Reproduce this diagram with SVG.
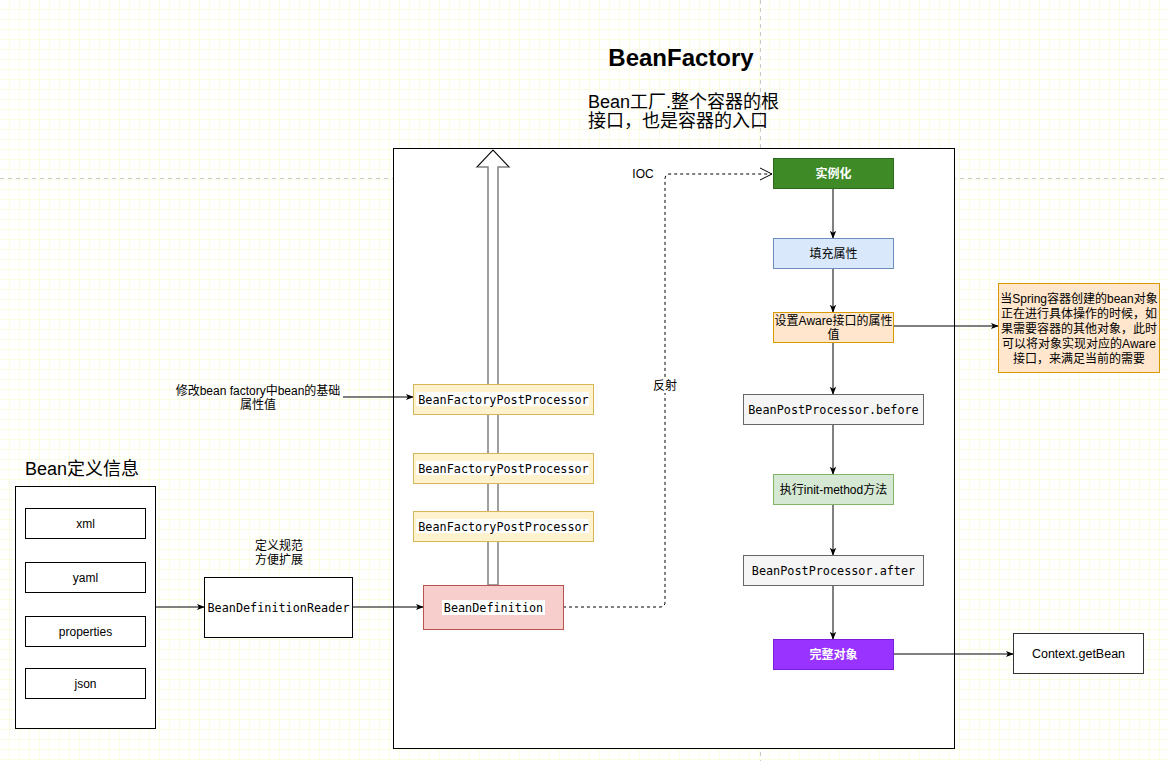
<svg xmlns="http://www.w3.org/2000/svg" width="1168" height="761" viewBox="0 0 1168 761">
<style>
.sans{font-family:"Liberation Sans","Noto Sans CJK SC",sans-serif;}
.mono{font-family:"DejaVu Sans Mono","Liberation Mono",monospace;font-size:11.8px;}
.c{text-anchor:middle;}
.edge{fill:none;stroke:#000;stroke-width:1;}
.guide{stroke:#c8c8c8;stroke-width:1;stroke-dasharray:4 4;fill:none;}
.bfpp{fill:#fff2cc;stroke:#d6b656;}
</style>
<defs>
<pattern id="grid" width="10" height="10" patternUnits="userSpaceOnUse">
<path d="M10 0V10H0" fill="none" stroke="#f8f8c8" stroke-width="1"/>
</pattern>
<marker id="arr" viewBox="0 0 10 10" refX="9" refY="5" markerWidth="8" markerHeight="8" orient="auto" markerUnits="userSpaceOnUse">
<path d="M0 1L10 5L0 9L2.5 5Z" fill="#000"/>
</marker>
<marker id="open" viewBox="0 0 14 14" refX="13" refY="7" markerWidth="14" markerHeight="14" orient="auto" markerUnits="userSpaceOnUse">
<path d="M1 1L13 7L1 13" fill="none" stroke="#000" stroke-width="1"/>
</marker>
</defs>
<rect width="1168" height="761" fill="#fff"/>
<rect width="1168" height="761" fill="url(#grid)"/>
<line class="guide" x1="760.5" y1="0" x2="760.5" y2="761"/>
<line class="guide" x1="0" y1="178.5" x2="1168" y2="178.5"/>

<g id="beanfactory-container">
<rect x="393.5" y="148.5" width="561" height="600" fill="#fff" stroke="#000"/>
</g>

<g id="title">
<text class="sans c" x="681" y="66" font-size="24" font-weight="bold">BeanFactory</text>
<text class="sans" x="588" y="108" font-size="18">Bean工厂.整个容器的根</text>
<text class="sans" x="588" y="127" font-size="18">接口，也是容器的入口</text>
</g>

<g id="hollow-arrow">
<path d="M488 585V167H477L493 150L509 167H498V585Z" fill="#fff" stroke="#808080" stroke-width="1.5" stroke-linejoin="miter"/>
<path d="M477 167L493 150L509 167" fill="none" stroke="#000" stroke-width="1"/>
</g>

<g id="connectors">
<line class="edge" x1="343" y1="397" x2="413" y2="397" marker-end="url(#arr)"/>
<line class="edge" x1="156" y1="607" x2="204" y2="607" marker-end="url(#arr)"/>
<line class="edge" x1="352" y1="607" x2="423" y2="607" marker-end="url(#arr)"/>
<path d="M563 607H660Q665 607 665 602V179Q665 174 670 174H772" fill="none" stroke="#000" stroke-dasharray="3 3" marker-end="url(#open)"/>
<line class="edge" x1="833" y1="188" x2="833" y2="238" marker-end="url(#arr)"/>
<line class="edge" x1="833" y1="268" x2="833" y2="312" marker-end="url(#arr)"/>
<line class="edge" x1="833" y1="342" x2="833" y2="394" marker-end="url(#arr)"/>
<line class="edge" x1="833" y1="424" x2="833" y2="474" marker-end="url(#arr)"/>
<line class="edge" x1="833" y1="504" x2="833" y2="555" marker-end="url(#arr)"/>
<line class="edge" x1="833" y1="585" x2="833" y2="639" marker-end="url(#arr)"/>
<line class="edge" x1="893" y1="326" x2="998" y2="326" marker-end="url(#arr)"/>
<line class="edge" x1="893" y1="654" x2="1013" y2="654" marker-end="url(#arr)"/>
<text class="sans c" x="643" y="178" font-size="12">IOC</text>
<rect x="654" y="377" width="23" height="16" fill="#fff"/>
<text class="sans c" x="665" y="390" font-size="12">反射</text>
<text class="sans c" x="258" y="395" font-size="12">修改bean factory中bean的基础</text>
<text class="sans c" x="258" y="409" font-size="12">属性值</text>
<text class="sans c" x="279" y="550" font-size="12">定义规范</text>
<text class="sans c" x="279" y="564" font-size="12">方便扩展</text>
</g>

<g id="bean-definition-info">
<text class="sans" x="25" y="475" font-size="18">Bean定义信息</text>
<rect x="15.5" y="486.5" width="140" height="242" fill="#fff" stroke="#000"/>
</g>
<g id="xml"><rect x="25.5" y="508.5" width="120" height="30" fill="#fff" stroke="#000"/><text class="sans c" x="85.5" y="528" font-size="12">xml</text></g>
<g id="yaml"><rect x="25.5" y="562.5" width="120" height="30" fill="#fff" stroke="#000"/><text class="sans c" x="85.5" y="582" font-size="12">yaml</text></g>
<g id="properties"><rect x="25.5" y="616.5" width="120" height="30" fill="#fff" stroke="#000"/><text class="sans c" x="85.5" y="636" font-size="12">properties</text></g>
<g id="json"><rect x="25.5" y="668.5" width="120" height="30" fill="#fff" stroke="#000"/><text class="sans c" x="85.5" y="688" font-size="12">json</text></g>

<g id="bean-definition-reader">
<rect x="204.5" y="577.5" width="148" height="60" fill="#fff" stroke="#000"/>
<text class="mono c" x="278.5" y="611.5">BeanDefinitionReader</text>
</g>

<g id="bfpp1">
<rect class="bfpp" x="413.5" y="384.5" width="180" height="30"/>
<rect x="416" y="392" width="173" height="14" fill="#fff"/>
<text class="mono c" x="503.5" y="403.5">BeanFactoryPostProcessor</text>
</g>
<g id="bfpp2">
<rect class="bfpp" x="413.5" y="453.5" width="180" height="30"/>
<rect x="416" y="461" width="173" height="14" fill="#fff"/>
<text class="mono c" x="503.5" y="472.5">BeanFactoryPostProcessor</text>
</g>
<g id="bfpp3">
<rect class="bfpp" x="413.5" y="511.5" width="180" height="30"/>
<rect x="416" y="519" width="173" height="14" fill="#fff"/>
<text class="mono c" x="503.5" y="530.5">BeanFactoryPostProcessor</text>
</g>

<g id="bean-definition">
<rect x="423.5" y="585.5" width="140" height="44" fill="#f8cecc" stroke="#b85450"/>
<rect x="442" y="600" width="103" height="15" fill="#fff"/>
<text class="mono c" x="493.5" y="611.5">BeanDefinition</text>
</g>

<g id="instantiate">
<rect x="773.5" y="158.5" width="120" height="30" fill="#3d8a26" stroke="#2d6a1c"/>
<text class="sans c" x="833.5" y="178" font-size="12" font-weight="bold" fill="#fff">实例化</text>
</g>
<g id="populate">
<rect x="773.5" y="238.5" width="120" height="30" fill="#dae8fc" stroke="#6c8ebf"/>
<text class="sans c" x="833.5" y="258" font-size="12">填充属性</text>
</g>
<g id="aware">
<rect x="773.5" y="312.5" width="120" height="30" fill="#ffe6cc" stroke="#d79b00"/>
<text class="sans c" x="833.5" y="325" font-size="12">设置Aware接口的属性</text>
<text class="sans c" x="833.5" y="339" font-size="12">值</text>
</g>
<g id="bpp-before">
<rect x="743.5" y="394.5" width="180" height="30" fill="#f5f5f5" stroke="#666"/>
<text class="mono c" x="833.5" y="414">BeanPostProcessor.before</text>
</g>
<g id="init-method">
<rect x="773.5" y="474.5" width="120" height="30" fill="#d5e8d4" stroke="#82b366"/>
<text class="sans c" x="833.5" y="494" font-size="12">执行init-method方法</text>
</g>
<g id="bpp-after">
<rect x="743.5" y="555.5" width="180" height="30" fill="#f5f5f5" stroke="#666"/>
<text class="mono c" x="833.5" y="575">BeanPostProcessor.after</text>
</g>
<g id="complete-object">
<rect x="773.5" y="639.5" width="120" height="30" fill="#9933ff" stroke="#7a1fd6"/>
<text class="sans c" x="833.5" y="659" font-size="12" font-weight="bold" fill="#fff">完整对象</text>
</g>
<g id="context-getbean">
<rect x="1013.5" y="633.5" width="130" height="40" fill="#fff" stroke="#333"/>
<text class="sans c" x="1078.5" y="658" font-size="12.5">Context.getBean</text>
</g>
<g id="aware-note">
<rect x="998.5" y="283.5" width="161" height="89" fill="#ffe6cc" stroke="#d79b00"/>
<text class="sans c" x="1079" y="303" font-size="12">当Spring容器创建的bean对象</text>
<text class="sans c" x="1079" y="318" font-size="12">正在进行具体操作的时候，如</text>
<text class="sans c" x="1079" y="333" font-size="12">果需要容器的其他对象，此时</text>
<text class="sans c" x="1079" y="348" font-size="12">可以将对象实现对应的Aware</text>
<text class="sans c" x="1079" y="363" font-size="12">接口，来满足当前的需要</text>
</g>
</svg>
